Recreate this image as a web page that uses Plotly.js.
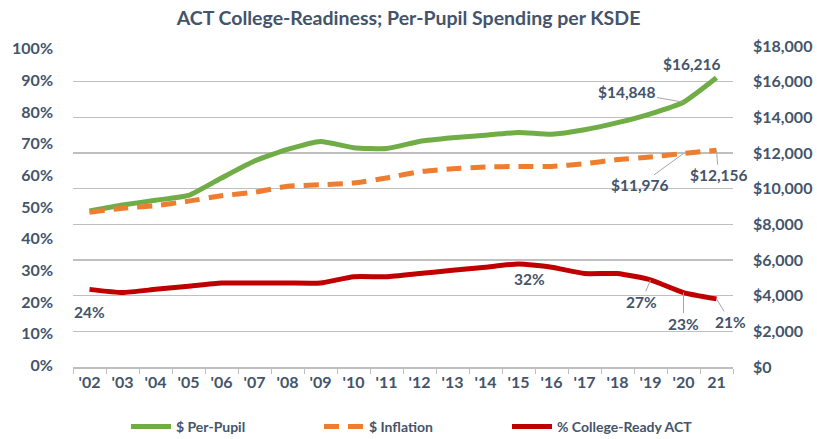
<!DOCTYPE html>
<html>
<head>
<meta charset="utf-8">
<script src="https://cdn.plot.ly/plotly-3.0.1.min.js"></script>
<style>html,body{margin:0;padding:0;background:#fff;}#chart{width:817px;height:439px;}</style>
</head>
<body>
<div id="chart"></div>
<script>
const years = ["'02","'03","'04","'05","'06","'07","'08","'09","'10","'11","'12","'13","'14","'15","'16","'17","'18","'19","'20","21"];
const perPupil = [8750, 9080, 9350, 9620, 10600, 11550, 12200, 12650, 12300, 12250, 12650, 12850, 13000, 13150, 13050, 13300, 13700, 14200, 14848, 16216];
const inflation = [8680, 8900, 9050, 9300, 9600, 9800, 10130, 10220, 10320, 10600, 10950, 11120, 11210, 11250, 11250, 11400, 11630, 11780, 11976, 12156];
const collegeReady = [24, 23, 24, 25, 26, 26, 26, 26, 28, 28, 29, 30, 31, 32, 31, 29, 29, 27, 23, 21];

const txt = '#44546A';
const fontFam = 'Lato, "Open Sans", sans-serif';

const traces = [
  {x: years, y: perPupil, name: '$ Per-Pupil', type: 'scatter', mode: 'lines', yaxis: 'y2', legend: 'legend',
   line: {color: '#70AD47', width: 5, shape: 'spline', smoothing: 0.5}},
  {x: years, y: inflation, name: '$ Inflation', type: 'scatter', mode: 'lines', yaxis: 'y2', legend: 'legend2',
   line: {color: '#ED7D31', width: 5, dash: '15px,9px', shape: 'spline', smoothing: 0.5}},
  {x: years, y: collegeReady, name: '% College-Ready ACT', type: 'scatter', mode: 'lines', yaxis: 'y', legend: 'legend3',
   line: {color: '#C00000', width: 5, shape: 'spline', smoothing: 0.5}}
];

function lab(xi, yv, yref, text, ax, ay, arrow) {
  const a = {x: xi, y: yv, xref: 'x', yref: yref, text: text,
    font: {family: fontFam, size: 15.5, color: txt, weight: 'bold'}};
  if (arrow) {
    a.showarrow = true; a.ax = ax; a.ay = ay; a.arrowhead = 0; a.arrowwidth = 1;
    a.arrowcolor = '#A6A6A6'; a.standoff = 0;
  } else {
    a.showarrow = false; a.xshift = ax; a.yshift = -ay;
  }
  return a;
}

const annotations = [
  lab(19, perPupil[19], 'y2', '$16,216', -25, -14, false),
  lab(18, perPupil[18], 'y2', '$14,848', -57, -10, true),
  lab(18, inflation[18], 'y2', '$11,976', -44, 32, true),
  lab(19, inflation[19], 'y2', '$12,156', 2, 25, true),
  lab(0, collegeReady[0], 'y', '24%', 0, 23, false),
  lab(13, collegeReady[13], 'y', '32%', 11, 15, false),
  lab(17, collegeReady[17], 'y', '27%', -9, 22, true),
  lab(18, collegeReady[18], 'y', '23%', 0, 31, true),
  lab(19, collegeReady[19], 'y', '21%', 14, 23, true)
];

function leg(xpx) {
  return {orientation: 'h', xref: 'container', yref: 'container', x: xpx / 817, xanchor: 'left',
    y: 1 - 427 / 439, yanchor: 'middle', itemwidth: 40, bgcolor: 'rgba(0,0,0,0)',
    font: {family: fontFam, size: 14, color: txt, weight: 'bold'}};
}

const layout = {
  width: 817, height: 439,
  margin: {l: 73, r: 84, t: 46, b: 72, pad: 0, autoexpand: false},
  paper_bgcolor: '#fff', plot_bgcolor: '#fff',
  font: {family: fontFam, color: txt},
  title: {text: 'ACT College-Readiness; Per-Pupil Spending per KSDE',
    font: {family: fontFam, size: 19.5, color: txt, weight: 'bold'},
    x: 0.5, xanchor: 'center', y: 0.958, yanchor: 'middle'},
  showlegend: true,
  legend: leg(126), legend2: leg(319), legend3: leg(507),
  xaxis: {type: 'category', range: [-0.5, 19.5], tickson: 'boundaries', ticks: 'outside', ticklen: 5, tickcolor: '#BFBFBF',
    showline: true, linecolor: '#BFBFBF', linewidth: 1.5, showgrid: false, zeroline: false, tickangle: 0,
    ticklabelstandoff: 0,
    tickfont: {family: fontFam, size: 16, color: txt, weight: 'bold'}, fixedrange: true},
  yaxis: {range: [-0.5, 100.8], tickvals: [0,10,20,30,40,50,60,70,80,90,100],
    ticktext: ['0%','10%','20%','30%','40%','50%','60%','70%','80%','90%','100%'],
    showgrid: false, zeroline: false, showline: false, ticks: '', ticklabelstandoff: 19,
    tickfont: {family: fontFam, size: 16, color: txt, weight: 'bold'}, fixedrange: true},
  yaxis2: {overlaying: 'y', side: 'right', range: [0, 18000], dtick: 2000, tickprefix: '$',
    tickformat: ',d', showgrid: true, gridcolor: '#BFBFBF', gridwidth: 1.5, zeroline: false,
    showline: false, ticks: '', ticklabelstandoff: 19,
    tickfont: {family: fontFam, size: 16, color: txt, weight: 'bold'}, fixedrange: true},
  annotations: annotations
};

Plotly.newPlot('chart', traces, layout, {staticPlot: true, displayModeBar: false});
</script>
</body>
</html>
